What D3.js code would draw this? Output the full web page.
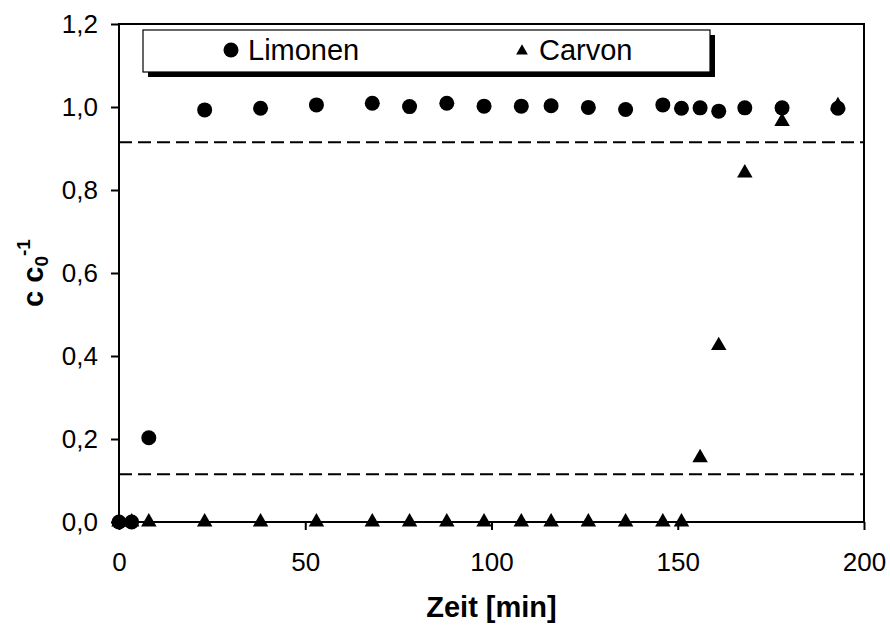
<!DOCTYPE html>
<html><head><meta charset="utf-8">
<script src="https://cdn.jsdelivr.net/npm/d3@7"></script>
<style>html,body{margin:0;padding:0;background:#fff;}svg{display:block;font-family:"Liberation Sans",Arial,sans-serif;}</style>
</head><body><svg id="c" width="890" height="635"></svg>
<script>
// Data
const limonenTime = [0, 3.4, 8, 23, 38, 53, 68, 78, 88, 98, 108, 116, 126, 136, 146, 151, 156, 161, 168, 178, 193];
const limonenVal  = [0, 0, 0.203, 0.993, 0.997, 1.005, 1.009, 1.001, 1.009, 1.002, 1.002, 1.003, 0.999, 0.994, 1.005, 0.997, 0.998, 0.990, 0.998, 0.998, 0.997];
const carvonTime  = [0, 3.4, 8, 23, 38, 53, 68, 78, 88, 98, 108, 116, 126, 136, 146, 151, 156, 161, 168, 178, 193];
const carvonVal   = [0, 0, 0, 0, 0, 0, 0, 0, 0, 0, 0, 0, 0, 0, 0, 0, 0.155, 0.425, 0.841, 0.965, 1.003];
const refLines    = [0.915, 0.115];
const xTicks = [0, 50, 100, 150, 200];
const yTicks = [0, 0.2, 0.4, 0.6, 0.8, 1.0, 1.2];
const seriesNames = ["Limonen", "Carvon"];

const svg = d3.select("#c");
const L = 119, R = 864, T = 24, B = 522;
const x = d3.scaleLinear().domain([0, 200]).range([L, R]);
const y = d3.scaleLinear().domain([0, 1.2]).range([B, T]);
const fmt = d => d3.format(".1f")(d).replace(".", ",");

// axes
const gx = svg.append("g").attr("transform", `translate(0,${B})`)
  .call(d3.axisBottom(x).tickValues(xTicks).tickSize(8).tickPadding(23).tickFormat(d3.format("d")));
const gy = svg.append("g").attr("transform", `translate(${L},0)`)
  .call(d3.axisLeft(y).tickValues(yTicks).tickSize(8).tickPadding(13).tickFormat(fmt));
[gx, gy].forEach(g => {
  g.select(".domain").remove();
  g.selectAll(".tick line").attr("stroke", "#000").attr("stroke-width", 2);
  g.selectAll(".tick text").attr("fill", "#000").style("font-size", "26px").style("font-family", '"Liberation Sans",Arial,sans-serif');
});

// frame
svg.append("rect").attr("x", L).attr("y", T).attr("width", R - L).attr("height", B - T)
  .attr("fill", "none").attr("stroke", "#000").attr("stroke-width", 2);

// reference dashed lines
svg.selectAll(".ref").data(refLines).enter().append("line")
  .attr("x1", L).attr("x2", R).attr("y1", d => y(d)).attr("y2", d => y(d))
  .attr("stroke", "#000").attr("stroke-width", 2).attr("stroke-dasharray", "13,6");

// points
const circ = d3.symbol().type(d3.symbolCircle).size(Math.PI * 7.5 * 7.5);
const tri = d3.symbol().type(d3.symbolTriangle).size(104);
svg.append("g").selectAll("path").data(limonenTime.map((t, i) => [t, limonenVal[i]])).enter()
  .append("path").attr("d", circ).attr("transform", d => `translate(${x(d[0])},${y(d[1])})`).attr("fill", "#000");
svg.append("g").selectAll("path").data(carvonTime.map((t, i) => [t, carvonVal[i]])).enter()
  .append("path").attr("d", tri).attr("transform", d => `translate(${x(d[0])},${y(d[1])})`).attr("fill", "#000");

// legend
const lg = svg.append("g");
lg.append("rect").attr("x", 148).attr("y", 35).attr("width", 567).attr("height", 42).attr("fill", "#000");
lg.append("rect").attr("x", 143).attr("y", 30).attr("width", 567).attr("height", 42).attr("fill", "#fff").attr("stroke", "#000").attr("stroke-width", 1.2);
lg.append("path").attr("d", d3.symbol().type(d3.symbolCircle).size(Math.PI * 7.5 * 7.5)).attr("transform", "translate(231,50)");
lg.append("path").attr("d", d3.symbol().type(d3.symbolTriangle).size(60)).attr("transform", "translate(522,51)");
lg.append("text").attr("x", 248).attr("y", 60).style("font-size", "29px").text(seriesNames[0]);
lg.append("text").attr("x", 539).attr("y", 60).style("font-size", "29px").text(seriesNames[1]);

// axis titles
svg.append("text").attr("x", (L + R) / 2).attr("y", 617).attr("text-anchor", "middle")
  .style("font-size", "29px").style("font-weight", "bold").text("Zeit [min]");
const yt = svg.append("text").attr("transform", `translate(43,${(T + B) / 2}) rotate(-90)`)
  .attr("text-anchor", "middle").style("font-size", "29px").style("font-weight", "bold");
yt.append("tspan").text("c c");
yt.append("tspan").attr("dy", 5).style("font-size", "19px").text("0");
yt.append("tspan").attr("dy", -18).style("font-size", "19px").text("-1");
</script></body></html>
